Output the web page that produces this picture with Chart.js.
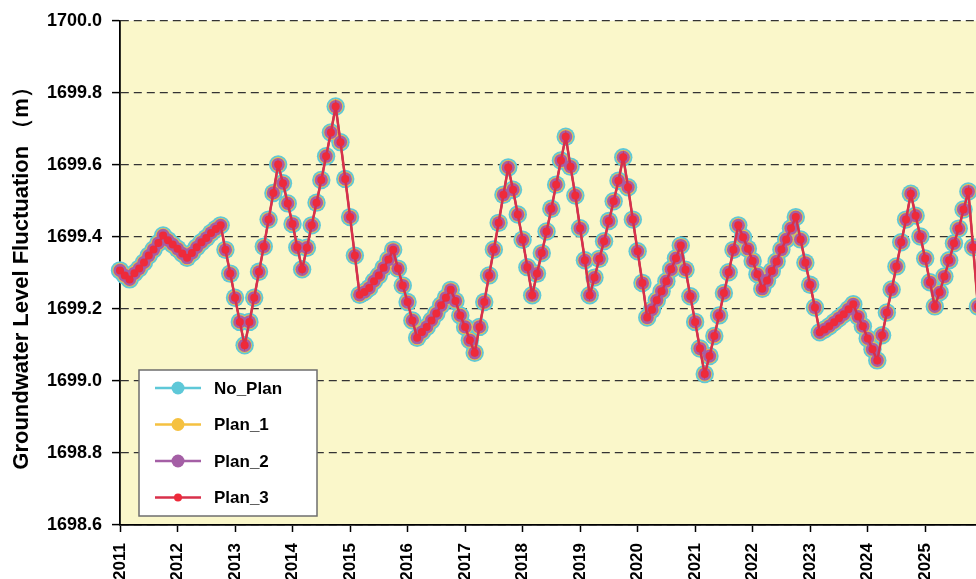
<!DOCTYPE html>
<html>
<head>
<meta charset="utf-8">
<script src="https://cdn.jsdelivr.net/npm/chart.js@4.4.1/dist/chart.umd.min.js"></script>
<style>
  html, body { margin: 0; padding: 0; background: #ffffff; }
  #wrap { width: 976px; height: 579px; }
</style>
</head>
<body>
<div id="wrap"><canvas id="c" width="976" height="579"></canvas></div>
<script>
// Year labels placed every 12 months along the time axis (month 0 = Jan 2011)
const yearLabels = ['2011', '2012', '2013', '2014', '2015', '2016', '2017', '2018',
                    '2019', '2020', '2021', '2022', '2023', '2024', '2025'];

// Level ticks on the vertical axis (m)
const levelTicks = [1698.6, 1698.8, 1699.0, 1699.2, 1699.4, 1699.6, 1699.8, 1700.0];

// Monthly groundwater level, Jan 2011 - Dec 2025 (m)
const noPlan = [
  1699.307, 1699.293, 1699.282, 1699.299, 1699.312, 1699.329, 1699.348, 1699.365, 1699.383, 1699.404, 1699.391, 1699.379,
  1699.367, 1699.354, 1699.342, 1699.355, 1699.371, 1699.385, 1699.397, 1699.411, 1699.422, 1699.432, 1699.364, 1699.298,
  1699.231, 1699.164, 1699.099, 1699.164, 1699.231, 1699.303, 1699.373, 1699.448, 1699.522, 1699.601, 1699.549, 1699.493,
  1699.436, 1699.371, 1699.310, 1699.370, 1699.432, 1699.495, 1699.558, 1699.624, 1699.690, 1699.762, 1699.663, 1699.561,
  1699.455, 1699.348, 1699.239, 1699.247, 1699.258, 1699.277, 1699.293, 1699.314, 1699.337, 1699.364, 1699.312, 1699.265,
  1699.219, 1699.168, 1699.120, 1699.136, 1699.150, 1699.168, 1699.187, 1699.210, 1699.231, 1699.253, 1699.222, 1699.182,
  1699.150, 1699.113, 1699.078, 1699.150, 1699.219, 1699.293, 1699.365, 1699.439, 1699.517, 1699.593, 1699.531, 1699.462,
  1699.392, 1699.316, 1699.238, 1699.298, 1699.355, 1699.415, 1699.478, 1699.545, 1699.612, 1699.678, 1699.595, 1699.515,
  1699.424, 1699.335, 1699.238, 1699.287, 1699.339, 1699.388, 1699.444, 1699.499, 1699.556, 1699.621, 1699.538, 1699.448,
  1699.360, 1699.272, 1699.176, 1699.198, 1699.224, 1699.249, 1699.277, 1699.310, 1699.341, 1699.376, 1699.309, 1699.235,
  1699.164, 1699.090, 1699.019, 1699.069, 1699.125, 1699.182, 1699.244, 1699.302, 1699.364, 1699.432, 1699.399, 1699.367,
  1699.333, 1699.296, 1699.256, 1699.279, 1699.305, 1699.332, 1699.365, 1699.393, 1699.424, 1699.455, 1699.393, 1699.328,
  1699.267, 1699.204, 1699.135, 1699.143, 1699.152, 1699.163, 1699.174, 1699.185, 1699.199, 1699.213, 1699.179, 1699.152,
  1699.118, 1699.088, 1699.057, 1699.127, 1699.190, 1699.254, 1699.318, 1699.385, 1699.448, 1699.520, 1699.459, 1699.401,
  1699.340, 1699.274, 1699.207, 1699.246, 1699.290, 1699.335, 1699.382, 1699.423, 1699.476, 1699.526, 1699.371, 1699.207
];
// The three plans follow the baseline level month by month
const plan1 = noPlan;
const plan2 = noPlan;
const plan3 = noPlan;

const seriesNames = ['No_Plan', 'Plan_1', 'Plan_2', 'Plan_3'];

const FONT = "'Liberation Sans', Arial, Helvetica, sans-serif";

const toPoints = arr => arr.map((v, i) => ({ x: i, y: v }));

// Pale yellow plotting area
const plotBackground = {
  id: 'plotBackground',
  beforeDraw(chart) {
    const { ctx, chartArea: a } = chart;
    ctx.save();
    ctx.fillStyle = '#faf7ca';
    ctx.fillRect(a.left, a.top, a.right - a.left, a.bottom - a.top);
    ctx.restore();
  }
};

// Boxed legend sitting inside the lower-left of the plotting area
const boxedLegend = {
  id: 'boxedLegend',
  afterDraw(chart) {
    const ctx = chart.ctx;
    const L = 139, T = 370, W = 178, H = 146, rowH = 36.5;
    ctx.save();
    ctx.fillStyle = '#ffffff';
    ctx.fillRect(L, T, W, H);
    ctx.strokeStyle = '#6e6e6e';
    ctx.lineWidth = 1.5;
    ctx.strokeRect(L, T, W, H);
    chart.data.datasets.forEach((ds, i) => {
      const cy = T + 18 + i * rowH;
      ctx.strokeStyle = ds.borderColor;
      ctx.lineWidth = 2.5;
      ctx.beginPath();
      ctx.moveTo(L + 16, cy);
      ctx.lineTo(L + 62, cy);
      ctx.stroke();
      ctx.fillStyle = ds.pointBackgroundColor;
      ctx.beginPath();
      ctx.arc(L + 39, cy, ds.legendRadius, 0, Math.PI * 2);
      ctx.fill();
      ctx.fillStyle = '#000000';
      ctx.font = 'bold 17px ' + FONT;
      ctx.textAlign = 'left';
      ctx.textBaseline = 'middle';
      ctx.fillText(ds.label, L + 75, cy + 1);
    });
    ctx.restore();
  }
};

const seriesStyle = [
  { data: noPlan, line: '#5ec8d8', fill: '#5ec8d8', r: 9.2, lw: 2,   order: 4, lr: 6.5 },
  { data: plan1,  line: '#f5c140', fill: '#f5c140', r: 7.4, lw: 2,   order: 3, lr: 6.5 },
  { data: plan2,  line: '#a45fa5', fill: '#a45fa5', r: 6.6, lw: 2,   order: 2, lr: 6.5 },
  { data: plan3,  line: '#d8304a', fill: '#ee2a3a', r: 4.0, lw: 2.5, order: 1, lr: 4 }
];

new Chart(document.getElementById('c'), {
  type: 'line',
  data: {
    datasets: seriesStyle.map((s, i) => ({
      label: seriesNames[i],
      data: toPoints(s.data),
      borderColor: s.line,
      backgroundColor: s.fill,
      pointBackgroundColor: s.fill,
      pointBorderWidth: 0,
      pointRadius: s.r,
      pointHoverRadius: s.r,
      borderWidth: s.lw,
      tension: 0,
      order: s.order,
      clip: false,
      legendRadius: s.lr
    }))
  },
  options: {
    responsive: false,
    devicePixelRatio: 1,
    animation: false,
    events: [],
    layout: { autoPadding: false, padding: { top: 20, left: 0, right: 0, bottom: 0 } },
    plugins: {
      legend: { display: false },
      tooltip: { enabled: false }
    },
    scales: {
      x: {
        type: 'linear',
        min: 0,
        max: 178.6,
        afterBuildTicks: s => { s.ticks = yearLabels.map((_, i) => ({ value: i * 12 })); },
        afterFit: s => { s.height = 54; },
        ticks: {
          autoSkip: false,
          minRotation: 90,
          maxRotation: 90,
          padding: 11,
          color: '#000000',
          font: { family: FONT, size: 17, weight: 'bold' },
          callback: (v, i) => yearLabels[i]
        },
        grid: { drawOnChartArea: false, drawTicks: true, tickLength: 7, tickColor: '#000000', tickWidth: 1.5 },
        border: { display: true, color: '#000000', width: 1.8 }
      },
      y: {
        min: 1698.6,
        max: 1700.0,
        afterBuildTicks: s => { s.ticks = levelTicks.map(v => ({ value: v })); },
        afterFit: s => { s.width = 120; },
        ticks: {
          padding: 10,
          color: '#000000',
          font: { family: FONT, size: 18, weight: 'bold' },
          callback: v => v.toFixed(1)
        },
        grid: { color: '#333333', lineWidth: 1.2, drawTicks: true, tickLength: 8, tickColor: '#000000', tickWidth: 1.5 },
        border: { display: true, color: '#000000', width: 1.8, dash: [8, 5] },
        title: {
          display: true,
          text: 'Groundwater Level Fluctuation （m）',
          color: '#000000',
          font: { family: FONT, size: 22, weight: 'bold' },
          padding: { top: 9, bottom: 0 }
        }
      }
    }
  },
  plugins: [plotBackground, boxedLegend]
});
</script>
</body>
</html>
